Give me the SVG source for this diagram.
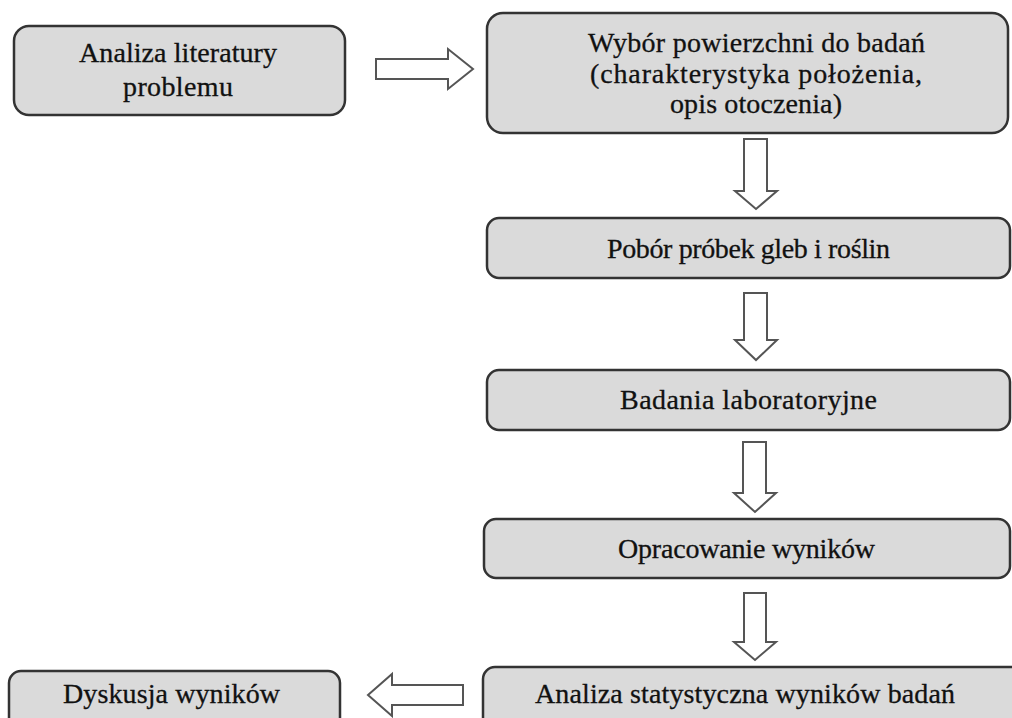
<svg xmlns="http://www.w3.org/2000/svg" width="1012" height="718" viewBox="0 0 1012 718">
<style>
.box{fill:#dadada;stroke:#333;stroke-width:2.5}
.arr{fill:#fff;stroke:#555;stroke-width:2;stroke-linejoin:miter}
text{font-family:"Liberation Serif","Times New Roman",serif;font-size:28px;fill:#111;stroke:#111;stroke-width:0.3}
</style>
<rect width="1012" height="718" fill="#fff"/>
<g id="n1">
<rect class="box" x="14" y="26" width="331" height="89" rx="15"/>
<text x="79" y="62" textLength="198" lengthAdjust="spacing">Analiza literatury</text>
<text x="123" y="96" textLength="110" lengthAdjust="spacing">problemu</text>
</g>
<g id="n2">
<rect class="box" x="487" y="13" width="521" height="120" rx="16"/>
<text x="588" y="52" textLength="337" lengthAdjust="spacing">Wybór powierzchni do badań</text>
<text x="590" y="83" textLength="332" lengthAdjust="spacing">(charakterystyka położenia,</text>
<text x="670" y="113" textLength="172" lengthAdjust="spacing">opis otoczenia)</text>
</g>
<g id="n3">
<rect class="box" x="487" y="218" width="523" height="60" rx="12"/>
<text x="607" y="258" textLength="283" lengthAdjust="spacing">Pobór próbek gleb i roślin</text>
</g>
<g id="n4">
<rect class="box" x="487" y="370" width="523" height="60" rx="12"/>
<text x="620" y="409" textLength="257" lengthAdjust="spacing">Badania laboratoryjne</text>
</g>
<g id="n5">
<rect class="box" x="484" y="519" width="526" height="59" rx="12"/>
<text x="618" y="558" textLength="257" lengthAdjust="spacing">Opracowanie wyników</text>
</g>
<g id="n6">
<rect class="box" x="483" y="667" width="540" height="80" rx="12"/>
<text x="535" y="703" textLength="420" lengthAdjust="spacing">Analiza statystyczna wyników badań</text>
</g>
<g id="n7">
<rect class="box" x="9" y="671" width="331" height="80" rx="12"/>
<text x="63" y="703" textLength="217" lengthAdjust="spacing">Dyskusja wyników</text>
</g>
<g id="connectors">
<polygon class="arr" points="376,59 448,59 448,49 473,69 448,89 448,79 376,79"/>
<polygon class="arr" points="744,139 767,139 767,191 777,191 756,209 735,191 744,191"/>
<polygon class="arr" points="744,293 767,293 767,340 777,340 756,360 735,340 744,340"/>
<polygon class="arr" points="743,442 766,442 766,493 776,493 755,512 734,493 743,493"/>
<polygon class="arr" points="744,593 766,593 766,642 776,642 755,660 734,642 744,642"/>
<polygon class="arr" points="463,685 463,705 392,705 392,716 368,695 392,674 392,685"/>
</g>
</svg>
